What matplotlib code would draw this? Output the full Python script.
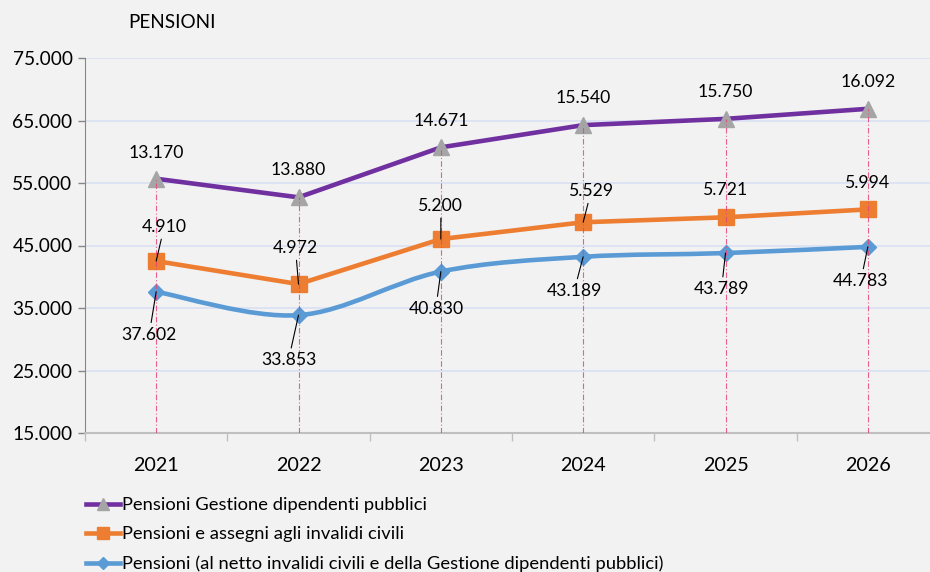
import numpy as np
import matplotlib
matplotlib.use('Agg')
import matplotlib.pyplot as plt
from matplotlib.path import Path
from matplotlib.patches import PathPatch
from matplotlib.lines import Line2D
from matplotlib.ticker import FuncFormatter

plt.rcParams['font.family'] = ['Lato', 'DejaVu Sans']

# Data (stacked: each series adds on the one below)
years = ['2021', '2022', '2023', '2024', '2025', '2026']
pensioni_netto = [37602, 33853, 40830, 43189, 43789, 44783]
invalidi_civili = [4910, 4972, 5200, 5529, 5721, 5994]
dipendenti_pubblici = [13170, 13880, 14671, 15540, 15750, 16092]
y_ticks = [15000, 25000, 35000, 45000, 55000, 65000, 75000]

legend_labels = ['Pensioni Gestione dipendenti pubblici',
                 'Pensioni e assegni agli invalidi civili',
                 'Pensioni (al netto invalidi civili e della Gestione dipendenti pubblici)']

# Colors
c_purple = '#7030a0'
c_orange = '#ed7d31'
c_blue = '#5b9bd5'
c_tri = '#a5a5a5'
c_drop = '#e8457a'
bg = '#f2f2f2'

x = np.arange(1, len(years) + 1)
blue_y = np.array(pensioni_netto)
orange_y = blue_y + np.array(invalidi_civili)
purple_y = orange_y + np.array(dipendenti_pubblici)


def fmt(v):
    return f'{int(v):,}'.replace(',', '.')


def smooth_path(xs, ys):
    # Excel-like smoothed line: cubic bezier segments
    pts = np.column_stack([xs, ys]).astype(float)
    n = len(pts)
    verts = [pts[0]]
    codes = [Path.MOVETO]
    for i in range(n - 1):
        p_prev = pts[i - 1] if i > 0 else pts[i]
        p_next2 = pts[i + 2] if i + 2 < n else pts[i + 1]
        c1 = pts[i] + (pts[i + 1] - p_prev) / 6
        c2 = pts[i + 1] - (p_next2 - pts[i]) / 6
        verts += [c1, c2, pts[i + 1]]
        codes += [Path.CURVE4] * 3
    return Path(verts, codes)


fig = plt.figure(figsize=(9.3, 5.72), dpi=100, facecolor=bg)
ax = fig.add_axes([85 / 930, 139 / 572, (939 - 85) / 930, (433 - 58) / 572])
ax.set_facecolor(bg)

ax.set_xlim(0.5, 6.5)
ax.set_ylim(15000, 75000)

# gridlines
ax.set_yticks(y_ticks)
ax.grid(axis='y', color='#d9e1f2', linewidth=1.2)
ax.set_axisbelow(True)

# drop lines
for xi, yi in zip(x, purple_y):
    ax.plot([xi, xi], [15000, yi], color=c_drop, lw=0.8, alpha=0.85,
            linestyle=(0, (5, 2, 1, 2)), zorder=6)

# series lines
ax.plot(x, purple_y, color=c_purple, lw=3.3, zorder=3, solid_capstyle='round')
ax.plot(x, orange_y, color=c_orange, lw=3.3, zorder=3, solid_capstyle='round')
ax.add_patch(PathPatch(smooth_path(x, blue_y), facecolor='none',
                       edgecolor=c_blue, lw=3.3, zorder=3, capstyle='round'))

# markers
ax.plot(x, purple_y, linestyle='none', marker='^', markersize=12,
        color=c_tri, markeredgecolor=c_tri, zorder=4)
ax.plot(x, orange_y, linestyle='none', marker='s', markersize=11,
        color=c_orange, markeredgecolor=c_orange, zorder=4)
ax.plot(x, blue_y, linestyle='none', marker='D', markersize=8,
        color=c_blue, markeredgecolor=c_blue, zorder=4)

# data labels (offsets in pixels)
lab_kw = dict(textcoords='offset pixels', ha='center', va='center',
              fontsize=12.7, color='black', zorder=7)
leader = dict(arrowstyle='-', color='black', lw=0.8, shrinkA=1, shrinkB=0)

purple_off = [(0, 26), (0, 27), (0, 26), (0, 27), (0, 27), (0, 27)]
orange_off = [(8, 34), (-3, 36), (0, 33), (8, 31), (0, 27), (0, 26)]
orange_lead = [True, True, True, True, False, False]
blue_off = [(-7, -43), (-10, -45), (-5, -37), (-9, -34), (-4, -36), (-7, -34)]

for i in range(len(x)):
    ax.annotate(fmt(dipendenti_pubblici[i]), (x[i], purple_y[i]),
                xytext=purple_off[i], **lab_kw)
    ax.annotate(fmt(invalidi_civili[i]), (x[i], orange_y[i]),
                xytext=orange_off[i],
                arrowprops=leader if orange_lead[i] else None, **lab_kw)
    ax.annotate(fmt(pensioni_netto[i]), (x[i], blue_y[i]),
                xytext=blue_off[i], arrowprops=leader, **lab_kw)

# axes styling
ax.yaxis.set_major_formatter(FuncFormatter(lambda v, p: fmt(v)))
ax.tick_params(axis='y', length=5, width=1, color='#868686',
               labelsize=13.8, pad=4)
ax.set_xticks(x)
ax.set_xticklabels(years)
ax.set_xticks(np.arange(0.5, 7, 1), minor=True)
ax.tick_params(axis='x', which='major', length=0, labelsize=14.2, pad=17)
ax.tick_params(axis='x', which='minor', length=6, width=1, color='#bfbfbf')

for s in ['top', 'right']:
    ax.spines[s].set_visible(False)
ax.spines['left'].set_color('#868686')
ax.spines['bottom'].set_color('#bfbfbf')
ax.spines['bottom'].set_linewidth(1.5)

fig.text(172 / 930, 1 - 22 / 572, 'PENSIONI', ha='center', va='center',
         fontsize=13.6)

# legend
handles = [
    Line2D([], [], color=c_purple, lw=3.3, marker='^', markersize=9,
           markerfacecolor=c_tri, markeredgecolor=c_tri),
    Line2D([], [], color=c_orange, lw=3.3, marker='s', markersize=8,
           markerfacecolor=c_orange, markeredgecolor=c_orange),
    Line2D([], [], color=c_blue, lw=3.3, marker='D', markersize=6,
           markerfacecolor=c_blue, markeredgecolor=c_blue),
]
fig.legend(handles, legend_labels, loc='upper left',
           bbox_to_anchor=(86 / 930, 1 - 497 / 572), frameon=False,
           fontsize=13.2, handlelength=1.85, handletextpad=0.12,
           labelspacing=0.72, borderpad=0, borderaxespad=0, numpoints=1)

fig.savefig('out.png', dpi=100, facecolor=bg)
